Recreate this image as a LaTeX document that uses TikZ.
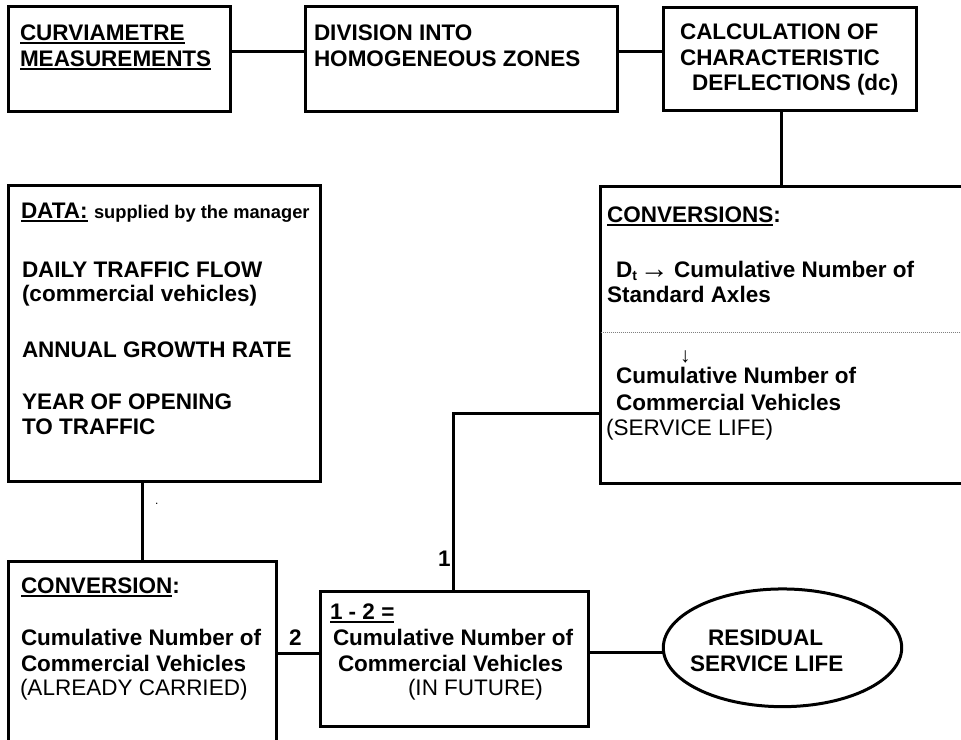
\documentclass[tikz,border=0pt]{standalone}
\usepackage{fontspec}
\setmainfont{Liberation Sans}
\usetikzlibrary{shapes.geometric}
\newlength\ulw
\newcommand\ulx[1]{\settowidth\ulw{#1}\rlap{\rule[-4pt]{\ulw}{2.2pt}}#1}
\tikzset{
  box/.style={draw, line width=3pt, inner sep=0pt, outer sep=0pt, anchor=north west},
  conn/.style={line width=3pt},
  txt/.style={anchor=base west, inner sep=0pt, outer sep=0pt, font=\fontsize{22.5}{26}\selectfont\bfseries},
  rtxt/.style={anchor=base west, inner sep=0pt, outer sep=0pt, font=\fontsize{22.5}{26}\selectfont},
  stxt/.style={anchor=base west, inner sep=0pt, outer sep=0pt, font=\fontsize{18.3}{20}\selectfont\bfseries},
}
\begin{document}
\begin{tikzpicture}[x=1pt,y=-1pt]
\useasboundingbox (0,0) rectangle (961,739);
% boxes
\node[box, minimum width=222pt, minimum height=105pt] (b1) at (8.5,6.5) {};
\node[box, minimum width=312.5pt, minimum height=105pt] (b2) at (305,6.5) {};
\node[box, minimum width=253.4pt, minimum height=102.5pt] (b3) at (663.3,7.5) {};
\node[box, minimum width=380pt, minimum height=296.6pt] (convs) at (600.5,186.7) {};
\node[box, minimum width=311.8pt, minimum height=296.7pt] (data) at (8.2,185) {};
\node[box, minimum width=267.8pt, minimum height=200pt] (conv) at (8.2,561.7) {};
\node[box, minimum width=268.3pt, minimum height=134.3pt] (mid) at (320,591.7) {};
\node[ellipse, draw, line width=3pt, inner sep=0pt, outer sep=0pt, minimum width=238.4pt, minimum height=117.7pt] (ell) at (782.5,647.8) {};
% connectors
\draw[conn] ([yshift=-44.5pt]b1.north east) -- ([yshift=-44.5pt]b2.north west);
\draw[conn] ([yshift=-44.5pt]b2.north east) -- ([yshift=-44.5pt]b2.north east -| b3.west);
\draw[conn] ([xshift=118.4pt]b3.south west) -- ([xshift=118.4pt]b3.south west |- convs.north);
\draw[conn] ([xshift=133.8pt]data.south west) -- ([xshift=133.8pt]data.south west |- conv.north);
\draw[conn] ([yshift=-61.3pt]mid.north west) -- ([yshift=-61.3pt]mid.north west -| conv.east);
\draw[conn] ([xshift=133.5pt]mid.north west) |- ([yshift=-226.3pt]convs.north west);
\draw[conn] ([yshift=-60.3pt]mid.north east) -- ([yshift=-60.3pt]mid.north east -| ell.west);
\draw[gray, line width=0.8pt, dash pattern=on 1pt off 1pt] ([yshift=-145.3pt]convs.north west) -- ([yshift=-145.3pt]convs.north east);
% texts
\node[txt] (t1) at (20,40) {\ulx{CURVIAMETRE}};
\node[txt] (t2) at (20,66) {\ulx{MEASUREMENTS}};
\node[txt] (t3) at (314,40) {DIVISION INTO};
\node[txt] (t4) at (314,66) {HOMOGENEOUS ZONES};
\node[txt] (t5) at (680,39) {CALCULATION OF};
\node[txt] (t6) at (680,65) {CHARACTERISTIC};
\node[txt] (t7) at (692,90) {DEFLECTIONS (dc)};
\node[txt] (t8) at (21,218) {\ulx{DATA:}};
\node[stxt] (t9) at (94,218) {supplied by the manager};
\node[txt] (t10) at (22,277) {DAILY TRAFFIC FLOW};
\node[txt] (t11) at (22,301) {(commercial vehicles)};
\node[txt] (t12) at (22,357) {ANNUAL GROWTH RATE};
\node[txt] (t13) at (22,409) {YEAR OF OPENING};
\node[txt] (t14) at (22,434) {TO TRAFFIC};
\node[txt] (t15) at (607,222) {\ulx{CONVERSIONS}:};
\node[txt] (t16) at (616,277) {D\raisebox{-3pt}{\fontsize{14}{14}\selectfont t}\hspace{3pt}{\fontsize{29}{29}\selectfont\raisebox{-1.5pt}{→}}\hspace{-1pt} Cumulative Number of};
\node[txt] (t17) at (607,302) {Standard Axles};
\node[rtxt, font=\fontsize{21}{21}\selectfont] (t18) at (680,362) {↓};
\node[txt] (t19) at (616,383) {Cumulative Number of};
\node[txt] (t20) at (616,410) {Commercial Vehicles};
\node[rtxt] (t21) at (606,435) {(SERVICE LIFE)};
\node[txt] (t22) at (21,593) {\ulx{CONVERSION}:};
\node[txt] (t23) at (21,645) {Cumulative Number of};
\node[txt] (t24) at (21,671) {Commercial Vehicles};
\node[rtxt] (t25) at (20,695) {(ALREADY CARRIED)};
\node[txt] (t26) at (289,645) {2};
\node[txt] (t27) at (438,566) {1};
\node[txt] (t28) at (330,619) {\ulx{1 - 2 =}};
\node[txt] (t29) at (333,645) {Cumulative Number of};
\node[txt] (t30) at (338,671) {Commercial Vehicles};
\node[rtxt] (t31) at (408,695) {(IN FUTURE)};
\node[txt] (t32) at (708,645) {RESIDUAL};
\node[txt] (t33) at (690,671) {SERVICE LIFE};
\node[rtxt, font=\fontsize{12}{12}\selectfont] (t34) at (155,504) {.};
\end{tikzpicture}
\end{document}
